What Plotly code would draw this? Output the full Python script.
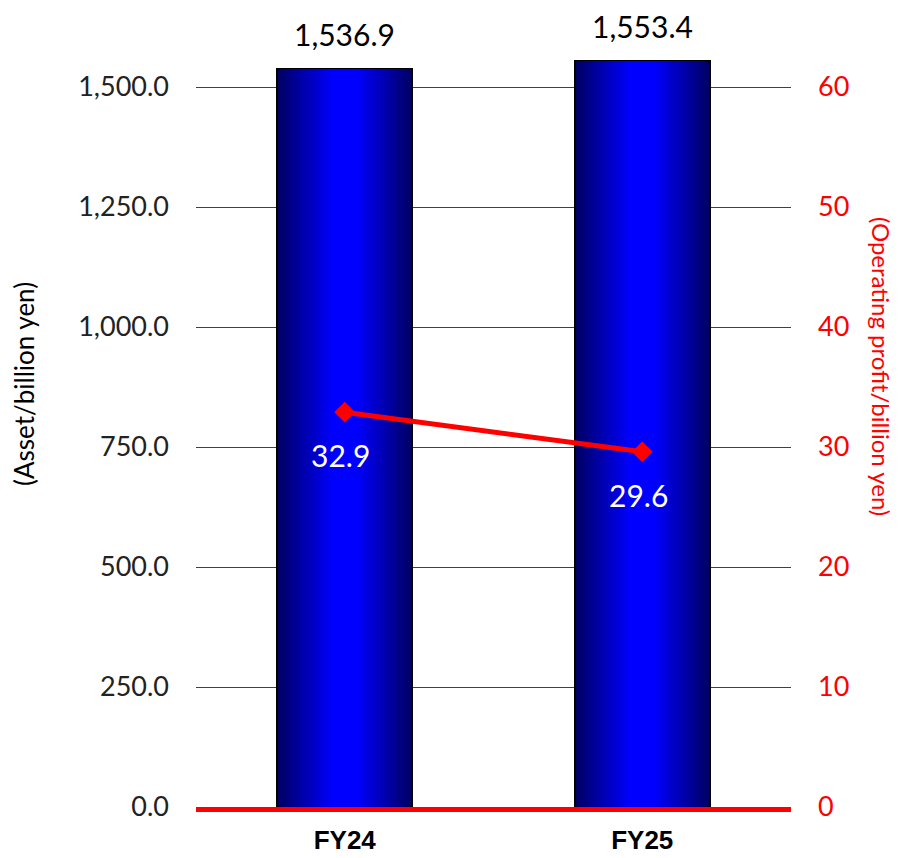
import plotly.graph_objects as go

categories = ["FY24", "FY25"]
assets = [1536.9, 1553.4]
op_profit = [32.9, 29.6]
left_ticks = [0, 250, 500, 750, 1000, 1250, 1500]
right_ticks = [0, 10, 20, 30, 40, 50, 60]

FONT = "Lato"
fig = go.Figure()

# bar with horizontal gradient emulated by stacked overlay layers
N = 24
full_w = 0.455
for i in range(N):
    f = 1 - i / N
    d = f  # distance from centre (0 centre, 1 edge)
    t = min(1.0, max(0.0, (d - 0.2) / 0.8))
    b = int(round(255 - (255 - 100) * t))
    col = f"rgb(0,0,{b})"
    fig.add_trace(go.Bar(
        x=categories, y=assets, width=full_w * f,
        marker=dict(color=col,
                    line=dict(color="black", width=2 if i == 0 else 0)),
        showlegend=False, hoverinfo="skip", yaxis="y",
    ))

fig.add_trace(go.Scatter(
    x=categories, y=op_profit, yaxis="y2", mode="lines+markers",
    line=dict(color="#ff0000", width=5),
    marker=dict(symbol="diamond", size=16, color="#ff0000"),
    showlegend=False,
))

for c, v in zip(categories, assets):
    fig.add_annotation(x=c, y=v, xref="x", yref="y", text=f"{v:,.1f}",
                       showarrow=False, yshift=35,
                       font=dict(family=FONT, size=30, color="black"))
for c, v in zip(categories, op_profit):
    fig.add_annotation(x=c, y=v, xref="x", yref="y2", text=f"{v:.1f}",
                       showarrow=False, yshift=-43, xshift=-4,
                       font=dict(family=FONT, size=30, color="white"))

PW, PH = 595, 792
fig.add_annotation(x=(24 - 196) / PW, y=(807 - 384) / PH, xref="paper", yref="paper",
                   xanchor="center", yanchor="middle",
                   text="(Asset/billion yen)", textangle=-90, showarrow=False,
                   font=dict(family=FONT, size=26, color="black"))
fig.add_annotation(x=(882 - 196) / PW, y=(807 - 367) / PH, xref="paper", yref="paper",
                   xanchor="center", yanchor="middle",
                   text="(Operating profit/billion yen)", textangle=90, showarrow=False,
                   font=dict(family=FONT, size=24, color="#ff0000"))

fig.update_layout(
    width=898, height=858,
    margin=dict(l=188, r=115, t=7, b=59, autoexpand=False),
    plot_bgcolor="white", paper_bgcolor="white",
    barmode="overlay", bargap=0,
    xaxis=dict(type="category", range=[-0.5, 1.5], showgrid=False,
               showline=True, linecolor="#ff0000", linewidth=5,
               automargin=False,
               ticks="", tickfont=dict(family="Liberation Sans", size=26, color="black",
                                       weight="bold"),
               ticklabelstandoff=6),
    yaxis=dict(range=[0, 1650], tickvals=left_ticks,
               ticktext=[f"{v:,.1f}" for v in left_ticks],
               showgrid=True, gridcolor="#404040", gridwidth=1,
               zeroline=False, showline=False, ticks="", automargin=False,
               tickfont=dict(family=FONT, size=27, color="#222222"),
               ticklabelstandoff=26),
    yaxis2=dict(range=[0, 66], tickvals=right_ticks,
                ticktext=[str(v) for v in right_ticks],
                overlaying="y", side="right", showgrid=False, automargin=False,
                zeroline=False, showline=False, ticks="",
                tickfont=dict(family=FONT, size=27, color="#ff0000"),
                ticklabelstandoff=26),
)

fig.write_html("out.html")
